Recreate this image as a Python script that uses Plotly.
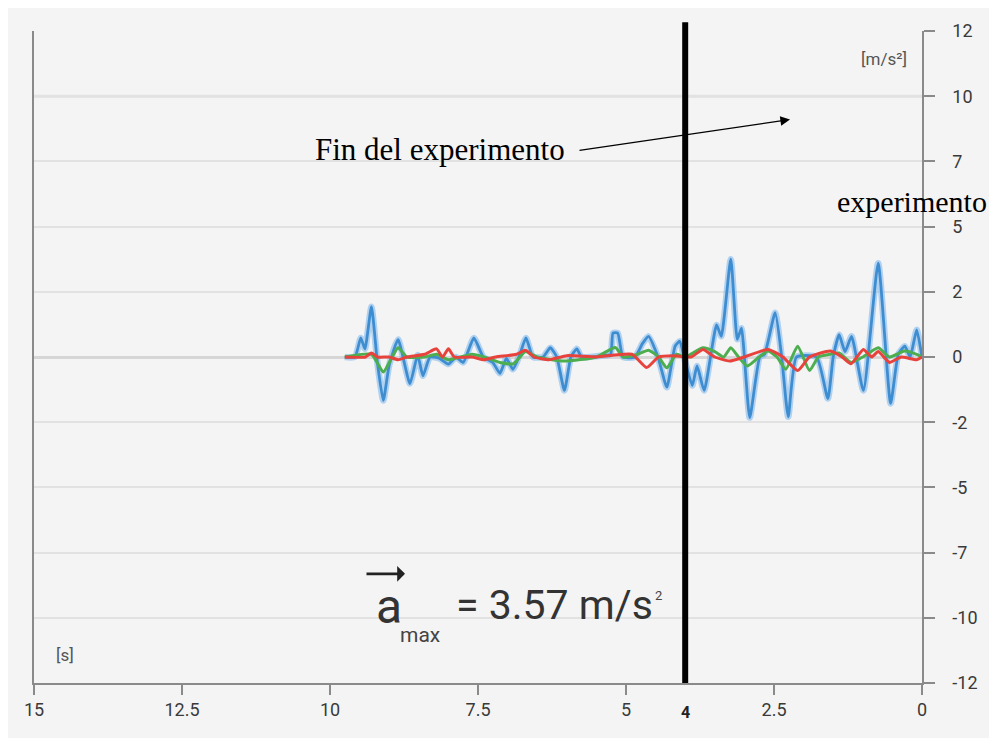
import plotly.graph_objects as go

# ---------------- data ----------------
t_blue = [9.75, 9.58, 9.48, 9.41, 9.30, 9.20, 9.10, 9.00, 8.85, 8.65, 8.52, 8.43, 8.31, 8.15, 8.00,
          7.87, 7.75, 7.57, 7.41, 7.25, 7.13, 7.02, 6.91, 6.80, 6.69, 6.57, 6.40, 6.28, 6.17, 6.04,
          5.93, 5.83, 5.75, 5.40, 5.26, 5.22, 5.14, 5.05, 4.85, 4.72, 4.62, 4.46, 4.31, 4.17, 4.09,
          4.02, 3.88, 3.80, 3.68, 3.47, 3.39, 3.23, 3.12, 3.05, 2.91, 2.74, 2.66, 2.48, 2.37, 2.26,
          2.12, 1.78, 1.59, 1.50, 1.40, 1.30, 1.19, 0.99, 0.74, 0.53, 0.40, 0.29, 0.20, 0.09, 0.0]
a_blue = [0.0, 0.0, 0.7, 0.3, 1.85, -0.2, -1.6, -0.3, 0.64, -0.98, 0.07, -0.69, 0.0, -0.05, -0.26,
          0.0, -0.2, 0.7, 0.0, -0.2, -0.6, -0.05, -0.45, 0.05, 0.7, 0.0, 0.0, 0.34, 0.0, -1.23,
          0.0, 0.3, 0.0, 0.05, 0.1, 0.88, 0.88, 0.0, 0.0, 0.5, 0.76, 0.0, -1.11, 0.4, 0.58,
          0.0, -1.05, -0.33, -1.23, 1.18, 0.76, 3.6, 0.65, 1.06, -2.23, 0.0, 0.1, 1.63, 0.0, -2.2,
          0.0, 0.0, -1.53, 0.0, 0.82, 0.2, 0.76, -1.23, 3.45, -1.71, 0.1, 0.4, 0.0, 1.0, 0.0]

t_green = [9.75, 9.3, 9.1, 8.95, 8.85, 8.7, 8.4, 8.2, 8.0, 7.6, 7.4, 7.13, 6.9, 6.7, 6.5, 6.04,
           5.5, 5.18, 5.05, 4.8, 4.62, 4.45, 4.31, 4.15, 4.0, 3.7, 3.5, 3.35, 3.23, 3.1, 2.95,
           2.75, 2.6, 2.45, 2.3, 2.1, 1.9, 1.75, 1.55, 1.4, 1.2, 1.0, 0.74, 0.55, 0.3, 0.09, 0.0]
a_green = [0.0, 0.1, -0.55, 0.0, 0.34, 0.0, 0.0, 0.1, -0.1, 0.1, 0.0, -0.2, -0.25, 0.2, 0.0, -0.15,
           0.0, 0.35, 0.0, 0.1, 0.25, 0.0, -0.4, 0.1, 0.0, 0.34, 0.2, 0.0, 0.34, 0.0, -0.33,
           0.0, 0.22, 0.0, -0.45, 0.4, -0.5, 0.0, 0.1, 0.15, -0.2, 0.0, 0.34, 0.0, 0.22, 0.1, 0.0]

t_red = [9.75, 9.4, 9.3, 9.2, 9.0, 8.85, 8.7, 8.4, 8.2, 8.1, 8.0, 7.9, 7.6, 7.4, 7.2, 6.85, 6.7,
         6.55, 6.3, 6.0, 5.5, 4.9, 4.65, 4.45, 4.2, 3.9, 3.7, 3.5, 3.25, 3.0, 2.6, 2.35, 2.1,
         1.9, 1.55, 1.35, 1.2, 0.99, 0.85, 0.74, 0.55, 0.35, 0.09, 0.0]
a_red = [0.0, 0.0, 0.15, 0.0, 0.0, -0.1, 0.0, 0.1, 0.3, 0.0, 0.3, 0.0, 0.0, -0.1, 0.0, 0.1, 0.25,
         0.0, -0.1, 0.05, 0.0, 0.1, -0.39, 0.0, 0.05, 0.0, 0.28, 0.0, -0.15, 0.0, 0.28, 0.0, -0.5,
         0.0, 0.22, 0.0, -0.25, 0.28, 0.0, 0.2, -0.2, 0.0, -0.1, 0.0]

x_ticks = [15, 12.5, 10, 7.5, 5, 2.5, 0]
x_tick_text = ["15", "12.5", "10", "7.5", "5", "2.5", "0"]
y_ticks = [12, 9.6, 7.2, 4.8, 2.4, 0, -2.4, -4.8, -7.2, -9.6, -12]
y_tick_text = ["12", "10", "7", "5", "2", "0", "-2", "-5", "-7", "-10", "-12"]
end_time = 4
a_max_text = "= 3.57 m/s"

# ---------------- layout helpers (screen pixel -> paper) ----------------
OFF = 8                      # page body margin
W, H = 997 - OFF, 738 - OFF  # figure size
L, R, T, B = 34, 922, 20, 683  # plot area in screen pixels


def px(x):
    return (x - L) / (R - L)


def py(y):
    return (B - y) / (B - T)


fig = go.Figure()
fig.add_trace(go.Scatter(x=t_blue, y=a_blue, mode="lines",
                         line=dict(color="rgba(130,185,235,0.6)", width=6.5, shape="spline", smoothing=0.5),
                         hoverinfo="skip"))
fig.add_trace(go.Scatter(x=t_blue, y=a_blue, mode="lines",
                         line=dict(color="#3f8dd1", width=2.8, shape="spline", smoothing=0.5)))
fig.add_trace(go.Scatter(x=t_green, y=a_green, mode="lines",
                         line=dict(color="#4cae4f", width=3, shape="spline", smoothing=0.5)))
fig.add_trace(go.Scatter(x=t_red, y=a_red, mode="lines",
                         line=dict(color="#e8423d", width=3, shape="spline", smoothing=0.5)))

tickfont = dict(family="Roboto", size=18, color="#3a3a3a")

fig.update_layout(
    width=W, height=H,
    margin=dict(l=L - OFF, r=W - (R - OFF), t=T - OFF, b=H - (B - OFF), pad=0),
    paper_bgcolor="#f4f4f4", plot_bgcolor="#f4f4f4",
    showlegend=False,
    xaxis=dict(range=[15, 0], tickvals=x_ticks, ticktext=x_tick_text, showgrid=False,
               zeroline=False, showline=True, linecolor="#8a8a8a", linewidth=1.5,
               ticks="outside", ticklen=10, tickwidth=2, tickcolor="#8a8a8a",
               tickfont=tickfont),
    yaxis=dict(range=[-12, 12], side="right", tickvals=y_ticks, ticktext=y_tick_text,
               showgrid=True, gridcolor="#e2e2e2", gridwidth=1.5,
               zeroline=True, zerolinecolor="#d6d6d6", zerolinewidth=3,
               showline=True, mirror=True, linecolor="#8a8a8a", linewidth=1.5,
               ticks="outside", ticklen=11, tickwidth=2, tickcolor="#8a8a8a",
               ticklabelstandoff=14, tickfont=tickfont),
)

shapes = [
    # thicker gridline at 10
    dict(type="line", xref="paper", yref="y", x0=0, x1=1, y0=9.6, y1=9.6,
         line=dict(color="#e0e0e0", width=3), layer="below"),
    # end of experiment vertical line
    dict(type="line", xref="x", yref="paper", x0=end_time, x1=end_time, y0=0, y1=py(11),
         line=dict(color="black", width=6)),
]
fig.update_layout(shapes=shapes)

serif = "Liberation Serif, Times New Roman, serif"
ann = [
    dict(text="[m/s²]", x=px(884), y=py(48), font=dict(family="Roboto", size=17, color="#555")),
    dict(text="[s]", x=px(65), y=py(655), font=dict(family="Roboto", size=17, color="#555")),
    dict(text="Fin del experimento", x=px(313), y=py(140), xanchor="left",
         font=dict(family=serif, size=31, color="black")),
    dict(text="experimento", x=px(989), y=py(193), xanchor="right",
         font=dict(family=serif, size=30, color="black")),
    dict(text="", x=px(790), y=py(110), showarrow=True, ax=578 - 790, ay=141 - 110,
         arrowhead=2, arrowsize=1.6, arrowwidth=1.2, arrowcolor="black"),
    dict(text="<b>4</b>", x=px(685), y=py(713), font=dict(family="Roboto", size=16, color="#222")),
    # a_max formula
    dict(text="a", x=px(374), y=py(605), xanchor="left",
         font=dict(family="Roboto", size=48, color="#333")),
    # vector arrow over the "a"
    dict(text="", x=px(405), y=py(572), showarrow=True, ax=-40, ay=0,
         arrowhead=1, arrowsize=1.0, arrowwidth=2.6, arrowcolor="#222", standoff=0),
    dict(text="max", x=px(398), y=py(634), xanchor="left",
         font=dict(family="Roboto", size=21, color="#444")),
    dict(text=a_max_text, x=px(454), y=py(604), xanchor="left",
         font=dict(family="Roboto", size=41, color="#333")),
    dict(text="2", x=px(653), y=py(594), xanchor="left",
         font=dict(family="Roboto", size=13, color="#444")),
]
for a in ann:
    a.setdefault("xref", "paper")
    a.setdefault("yref", "paper")
    a.setdefault("xanchor", "center")
    a.setdefault("yanchor", "middle")
    a.setdefault("showarrow", False)
fig.update_layout(annotations=ann)

fig.write_html("out.html")
